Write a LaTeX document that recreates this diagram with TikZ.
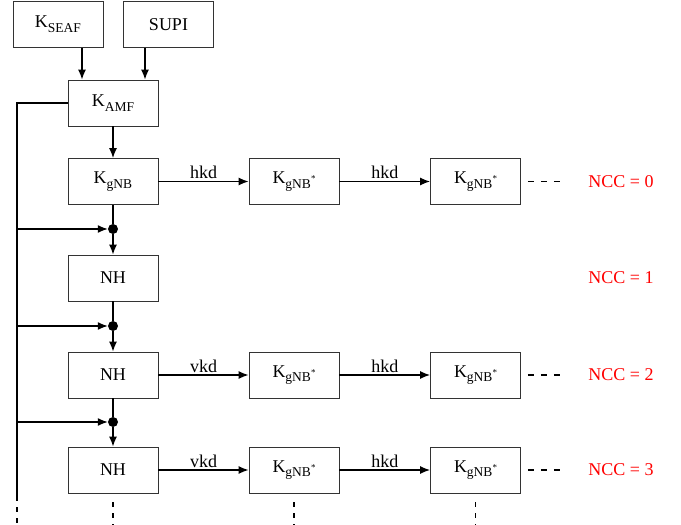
\documentclass[tikz,border=0pt]{standalone}
\usepackage{fontspec}
\setmainfont{Liberation Serif}
\usetikzlibrary{arrows.meta}
\newcommand{\Kb}[1]{K\raisebox{-0.26em}{\fontsize{13.5}{15}\selectfont #1}}
\newcommand{\Ks}{K\raisebox{-0.26em}{\fontsize{13.5}{15}\selectfont gNB\raisebox{0.5em}{\fontsize{9}{10}\selectfont *}}}
\begin{document}
\begin{tikzpicture}[x=1pt,y=-1pt,
  box/.style={draw=black!80,line width=0.8pt,minimum width=90pt,minimum height=46pt,inner sep=0pt,font=\fontsize{18}{22}\selectfont},
  arr/.style={line width=1.4pt,-{Latex[length=10pt,width=8pt]}},
  ln/.style={line width=1.4pt},
  lft/.style={line width=1.8pt},
  dot/.style={circle,fill=black,inner sep=0pt,minimum size=10pt},
  lbl/.style={font=\fontsize{18}{22}\selectfont,inner sep=2pt},
  ncc/.style={text=red,font=\fontsize{18}{22}\selectfont},
  dsh/.style={line width=1.4pt,dash pattern=on 6pt off 7pt},
  dsv/.style={line width=1.4pt,dash pattern=on 5pt off 6pt}]
\useasboundingbox (0,0) rectangle (681,525);
% top
\node[box] (kseaf) at (58,24.5) {\Kb{SEAF}};
\node[box] (supi) at (168.5,24.5) {SUPI};
\node[box] (kamf) at (113,103) {\Kb{AMF}};
\draw[arr] ([xshift=24pt]kseaf.south) -- ([xshift=-31pt]kamf.north);
\draw[arr] ([xshift=-23.5pt]supi.south) -- ([xshift=32pt]kamf.north);
% rows
\node[box] (a1) at (113,181.5) {\Kb{gNB}};
\node[box] (b1) at (294,181.5) {\Ks};
\node[box] (c1) at (475.5,181.5) {\Ks};
\node[box] (a2) at (113,278) {NH};
\node[box] (a3) at (113,375) {NH};
\node[box] (b3) at (294,375) {\Ks};
\node[box] (c3) at (475.5,375) {\Ks};
\node[box] (a4) at (113,470) {NH};
\node[box] (b4) at (294,470) {\Ks};
\node[box] (c4) at (475.5,470) {\Ks};
\draw[arr] (kamf) -- (a1);
\draw[arr] (a1) -- node[lbl,above]{hkd} (b1);
\draw[arr] (b1) -- node[lbl,above]{hkd} (c1);
\draw[arr] (a3) -- node[lbl,above]{vkd} (b3);
\draw[arr] (b3) -- node[lbl,above]{hkd} (c3);
\draw[arr] (a4) -- node[lbl,above]{vkd} (b4);
\draw[arr] (b4) -- node[lbl,above]{hkd} (c4);
% dots
\node[dot] (d1) at (113,229) {};
\node[dot] (d2) at (113,326) {};
\node[dot] (d3) at (113,422) {};
\draw[ln] (a1) -- (d1); \draw[arr] (d1) -- (a2);
\draw[ln] (a2) -- (d2); \draw[arr] (d2) -- (a3);
\draw[ln] (a3) -- (d3); \draw[arr] (d3) -- (a4);
% left line
\coordinate (l0) at (17,103);
\coordinate (l1) at (17,229);
\coordinate (l2) at (17,326);
\coordinate (l3) at (17,422);
\coordinate (le) at (17,499);
\draw[lft] (kamf.west) -- (l0) -- (le);
\draw[arr] (l1) -- (d1.west);
\draw[arr] (l2) -- (d2.west);
\draw[arr] (l3) -- (d3.west);
% ellipses
\foreach \n in {c1,c3,c4} \draw[dsh] ([xshift=7pt]\n.east) -- ([xshift=42pt]\n.east);
\node[ncc] (n0) at (621,181.5) {NCC = 0};
\node[ncc] (n1) at (621,278) {NCC = 1};
\node[ncc] (n2) at (621,375) {NCC = 2};
\node[ncc] (n3) at (621,470) {NCC = 3};
% bottom dashes
\coordinate (e0) at (17,525);
\draw[dsv] ([yshift=3pt]le) -- (e0);
\foreach \n in {a4,b4,c4} \draw[dsv] ([yshift=-9pt]\n.south) -- ([yshift=-40pt]\n.south);
\end{tikzpicture}
\end{document}
